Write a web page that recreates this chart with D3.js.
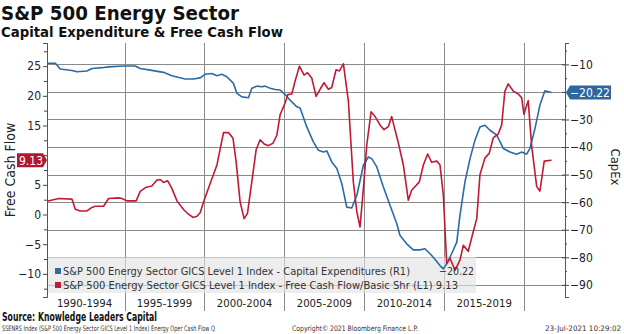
<!DOCTYPE html>
<html>
<head>
<meta charset="utf-8">
<script src="https://cdn.jsdelivr.net/npm/d3@7"></script>
<style>
  body { margin: 0; background: #fff; }
  svg { display: block; }
  text { font-family: "DejaVu Sans Condensed", "DejaVu Sans", sans-serif; }
</style>
</head>
<body>
<div id="chart"></div>
<script>
// CapEx (right axis), quarterly-ish readings
const capexYears = [1990.15, 1990.67, 1990.98, 1991.71, 1992.03, 1992.65, 1992.96, 1993.59, 1994.0, 1994.94,
  1995.67, 1995.98, 1996.61, 1997.44, 1997.96, 1998.79, 1999.31, 1999.73, 2000.04, 2000.46,
  2000.78, 2001.09, 2001.4, 2001.81, 2002.03, 2002.34, 2002.75, 2002.96, 2003.28, 2003.59,
  2003.79, 2004.11, 2004.42, 2004.73, 2005.04, 2005.36, 2005.78, 2005.98, 2006.4, 2006.81,
  2007.13, 2007.44, 2007.65, 2007.96, 2008.28, 2008.59, 2008.9, 2009.21, 2009.53, 2009.94,
  2010.25, 2010.46, 2010.78, 2011.19, 2011.61, 2012.03, 2012.23, 2012.65, 2013.06, 2013.48,
  2013.79, 2014.11, 2014.31, 2014.73, 2014.94, 2015.15, 2015.46, 2015.78, 2015.98, 2016.29,
  2016.61, 2016.92, 2017.23, 2017.54, 2017.86, 2018.28, 2018.69, 2019.11, 2019.53, 2019.84,
  2020.15, 2020.36, 2020.67, 2020.98, 2021.29, 2021.71];
const capexValues = [-9.6, -9.6, -11.7, -12.2, -12.7, -12.4, -11.5, -11.2, -10.9, -10.6,
  -10.6, -11.5, -12.1, -12.9, -14.1, -15.3, -15.3, -14.9, -13.6, -13.3,
  -14.1, -13.6, -14.5, -16.9, -20.5, -21.8, -22.1, -18.7, -17.9, -18.1,
  -17.9, -18.7, -19.1, -19.3, -20.9, -23.0, -25.4, -25.8, -32.7, -38.1,
  -41.2, -41.8, -41.4, -45.4, -47.8, -53.3, -61.8, -62.1, -57.5, -46.6,
  -43.6, -44.2, -47.2, -54.5, -61.2, -67.8, -72.1, -75.1, -77.3, -77.3,
  -76.9, -78.7, -80.0, -83.0, -84.2, -82.4, -78.7, -74.5, -64.8, -52.7,
  -44.2, -37.5, -32.7, -32.1, -33.9, -35.7, -40.5, -41.8, -42.6, -41.8,
  -42.6, -40.5, -33.3, -24.8, -19.6, -20.22];

// Free cash flow per share (left axis)
const fcfYears = [1990.15, 1990.88, 1991.71, 1991.92, 1992.23, 1992.65, 1992.96, 1993.17, 1993.69, 1994.0,
  1994.63, 1994.84, 1995.15, 1995.73, 1995.98, 1996.36, 1996.71, 1997.03, 1997.23, 1997.44,
  1997.69, 1997.96, 1998.28, 1998.69, 1999.0, 1999.28, 1999.53, 1999.73, 1999.94, 2000.36,
  2000.78, 2001.19, 2001.5, 2001.78, 2001.98, 2002.23, 2002.48, 2002.69, 2002.96, 2003.23,
  2003.48, 2003.73, 2004.0, 2004.28, 2004.53, 2004.73, 2005.04, 2005.21, 2005.46, 2005.67,
  2005.94, 2006.23, 2006.44, 2006.71, 2006.98, 2007.23, 2007.48, 2007.75, 2007.96, 2008.23,
  2008.44, 2008.69, 2009.0, 2009.31, 2009.53, 2009.73, 2009.94, 2010.15, 2010.42, 2010.67,
  2010.98, 2011.23, 2011.5, 2011.71, 2012.13, 2012.44, 2012.75, 2012.96, 2013.44, 2013.69,
  2013.96, 2014.21, 2014.53, 2014.73, 2014.94, 2015.15, 2015.36, 2015.67, 2015.98, 2016.19,
  2016.5, 2016.81, 2017.03, 2017.23, 2017.54, 2017.81, 2018.06, 2018.38, 2018.59, 2018.79,
  2019.0, 2019.31, 2019.63, 2019.84, 2019.98, 2020.25, 2020.46, 2020.78, 2020.98, 2021.25,
  2021.71];
const fcfValues = [2.25, 2.7, 2.6, 0.9, 0.6, 0.6, 1.2, 1.4, 1.4, 2.7,
  2.8, 2.7, 2.3, 2.3, 3.9, 4.6, 4.8, 5.8, 5.9, 5.4,
  5.7, 4.4, 2.3, 0.85, 0.05, -0.5, -0.3, 0.3, 2.1, 5.25,
  8.35, 13.8, 13.8, 12.9, 8.9, 2.1, -0.7, 0.2, 5.5, 10.9,
  12.6, 11.9, 11.6, 12.0, 13.4, 16.8, 18.8, 20.2, 20.3, 22.5,
  25.0, 23.5, 23.9, 23.0, 19.9, 21.1, 22.2, 21.1, 21.4, 24.4,
  24.2, 25.4, 19.1, 5.5, 0.45, -2.1, 4.4, 11.7, 17.3, 16.5,
  15.1, 14.3, 14.8, 16.5, 12.0, 8.35, 2.4, 4.1, 5.5, 8.35,
  10.2, 8.8, 9.0, 8.35, 3.3, -8.25, -7.4, -9.4, -7.7, -5.2,
  -6.2, -2.9, -0.7, 6.7, 9.5, 10.3, 12.9, 13.6, 15.1, 20.8,
  22.0, 20.8, 20.3, 19.65, 16.9, 19.2, 11.7, 4.7, 3.95, 9.0,
  9.13];

const leftTicks = [-10, -5, 0, 5, 10, 15, 20, 25];
const rightTicks = [-10, -20, -30, -40, -50, -60, -70, -80, -90];
const periodStarts = [1990, 1995, 2000, 2005, 2010, 2015];
const periodLabels = ["1990-1994", "1995-1999", "2000-2004", "2005-2009", "2010-2014", "2015-2019"];
const gridYears = [1995, 2000, 2005, 2010, 2015, 2020];

const capexName = "S&P 500 Energy Sector GICS Level 1 Index - Capital Expenditures (R1)";
const fcfName = "S&P 500 Energy Sector GICS Level 1 Index - Free Cash Flow/Basic Shr (L1)";
const lastCapex = capexValues[capexValues.length - 1];
const lastFcf = fcfValues[fcfValues.length - 1];

const width = 624, height = 334;
const blue = "#2c6aa6", red = "#c01a35";
const plotLeft = 47, plotRight = 565, plotTop = 43, plotBottom = 297;

const svg = d3.select("#chart").append("svg")
  .attr("width", width)
  .attr("height", height);

const x = d3.scaleLinear().domain([1990.15, 2022.55]).range([plotLeft, plotRight]);
const yL = d3.scaleLinear().domain([-13.9, 28.9]).range([plotBottom, plotTop]);
const yR = d3.scaleLinear().domain([-94.4, -2.25]).range([plotBottom, plotTop]);

const tagL = yL(lastFcf);
const tagR = yR(lastCapex);

// titles
svg.append("text").attr("x", 1).attr("y", 20)
  .attr("font-size", 19).attr("font-weight", "bold").attr("fill", "#111")
  .attr("textLength", 238).attr("lengthAdjust", "spacingAndGlyphs")
  .text("S&P 500 Energy Sector");
svg.append("text").attr("x", 1).attr("y", 37)
  .attr("font-size", 14).attr("font-weight", "bold").attr("fill", "#111")
  .attr("textLength", 282).attr("lengthAdjust", "spacingAndGlyphs")
  .text("Capital Expenditure & Free Cash Flow");

// grid
const grid = svg.append("g").attr("stroke", "#8a8a8a").attr("stroke-width", 1);
grid.selectAll("line.h").data(rightTicks).join("line")
  .attr("x1", plotLeft).attr("x2", plotRight)
  .attr("y1", d => Math.round(yR(d)) + 0.5).attr("y2", d => Math.round(yR(d)) + 0.5);
grid.selectAll("line.v").data(gridYears).join("line")
  .attr("x1", d => Math.round(x(d)) + 0.5).attr("x2", d => Math.round(x(d)) + 0.5)
  .attr("y1", plotTop).attr("y2", plotBottom + 14);

// legend background
svg.append("rect")
  .attr("x", plotLeft + 1).attr("y", 257).attr("width", 428).attr("height", 36)
  .attr("fill", "#e4e4e4").attr("opacity", 0.65);

// axes (labels sitting under the value tags are covered in the original, so skip them)
const hideNear = (scale, tagY) => d => Math.abs(scale(d) - tagY) < 9 ? "" : d3.format("d")(d);
const axisL = svg.append("g").attr("transform", `translate(${plotLeft},0)`)
  .call(d3.axisLeft(yL).tickValues(leftTicks).tickSize(4).tickFormat(hideNear(yL, tagL)));
const axisLminor = svg.append("g").attr("transform", `translate(${plotLeft},0)`)
  .call(d3.axisLeft(yL).tickValues(d3.range(-12.5, 28, 5)).tickSize(3).tickFormat(""));
const axisR = svg.append("g").attr("transform", `translate(${plotRight},0)`)
  .call(d3.axisRight(yR).tickValues(rightTicks).tickSize(4).tickFormat(hideNear(yR, tagR)));
const axisRminor = svg.append("g").attr("transform", `translate(${plotRight},0)`)
  .call(d3.axisRight(yR).tickValues(d3.range(-5, -94, -10)).tickSize(2).tickFormat(""));
[axisL, axisLminor, axisR, axisRminor].forEach(a => {
  a.select(".domain").attr("stroke", "#555");
  a.selectAll(".tick line").attr("stroke", "#444");
  a.selectAll("text").attr("font-size", 12).attr("fill", "#222")
    .attr("font-family", "DejaVu Sans Condensed");
});
axisL.selectAll("text").attr("x", -6);
axisR.selectAll(".tick line").attr("x1", -3);
axisR.selectAll("text").attr("x", 5);

// period labels
svg.append("g").selectAll("text").data(periodStarts).join("text")
  .attr("x", d => x(d + 2.5)).attr("y", 307)
  .attr("text-anchor", "middle").attr("font-size", 11.3).attr("fill", "#222")
  .text((d, i) => periodLabels[i]);

// axis titles
svg.append("text").attr("transform", "translate(15,170) rotate(-90)")
  .attr("text-anchor", "middle").attr("font-size", 14).attr("fill", "#222")
  .text("Free Cash Flow");
svg.append("text").attr("transform", "translate(611,167) rotate(90)")
  .attr("text-anchor", "middle").attr("font-size", 13).attr("fill", "#222")
  .text("CapEx");

// lines
const capexLine = d3.line().x((d, i) => x(capexYears[i])).y(d => yR(d));
const fcfLine = d3.line().x((d, i) => x(fcfYears[i])).y(d => yL(d));
svg.append("path").datum(capexValues).attr("d", capexLine)
  .attr("fill", "none").attr("stroke", blue).attr("stroke-width", 1.6).attr("stroke-linejoin", "round");
svg.append("path").datum(fcfValues).attr("d", fcfLine)
  .attr("fill", "none").attr("stroke", red).attr("stroke-width", 1.6).attr("stroke-linejoin", "round");

// legend
const legend = svg.append("g").attr("font-size", 10.5).attr("fill", "#333");
legend.append("rect").attr("x", 55).attr("y", 268).attr("width", 6).attr("height", 6).attr("fill", blue);
legend.append("rect").attr("x", 55).attr("y", 282).attr("width", 6).attr("height", 6).attr("fill", red);
legend.append("text").attr("x", 63).attr("y", 275)
  .attr("textLength", 347).attr("lengthAdjust", "spacingAndGlyphs").text(capexName);
legend.append("text").attr("x", 439).attr("y", 275).text(d3.format(".2f")(lastCapex));
legend.append("text").attr("x", 63).attr("y", 289)
  .attr("textLength", 395).attr("lengthAdjust", "spacingAndGlyphs")
  .text(fcfName + " " + d3.format(".2f")(lastFcf));

// value tags
svg.append("path")
  .attr("d", `M17,${tagL - 7}H43L47,${tagL}L43,${tagL + 7}H17Z`).attr("fill", "#b3172e");
svg.append("text").attr("x", 31).attr("y", tagL + 4.5).attr("text-anchor", "middle")
  .attr("font-size", 12).attr("fill", "#fff").text(d3.format(".2f")(lastFcf));
svg.append("path")
  .attr("d", `M566,${tagR}L570,${tagR - 7}H611V${tagR + 7}H570Z`).attr("fill", "#2c67a0");
svg.append("text").attr("x", 590).attr("y", tagR + 4.5).attr("text-anchor", "middle")
  .attr("font-size", 12).attr("fill", "#fff").text(d3.format(".2f")(lastCapex));

// footer
svg.append("text").attr("x", 2).attr("y", 321)
  .attr("font-size", 12).attr("font-weight", "bold").attr("fill", "#111")
  .attr("textLength", 155).attr("lengthAdjust", "spacingAndGlyphs")
  .text("Source: Knowledge Leaders Capital");
const foot = svg.append("g").attr("font-size", 7.5).attr("fill", "#333");
foot.append("text").attr("x", 2).attr("y", 331)
  .attr("textLength", 213).attr("lengthAdjust", "spacingAndGlyphs")
  .text("SSENRS Index (S&P 500 Energy Sector GICS Level 1 Index) Energy Oper Cash Flow  Q");
foot.append("text").attr("x", 292).attr("y", 331)
  .attr("textLength", 126).attr("lengthAdjust", "spacingAndGlyphs")
  .text("Copyright© 2021 Bloomberg Finance L.P.");
foot.append("text").attr("x", 545).attr("y", 331)
  .attr("textLength", 76).attr("lengthAdjust", "spacingAndGlyphs")
  .text("23-Jul-2021 10:29:02");
</script>
</body>
</html>
